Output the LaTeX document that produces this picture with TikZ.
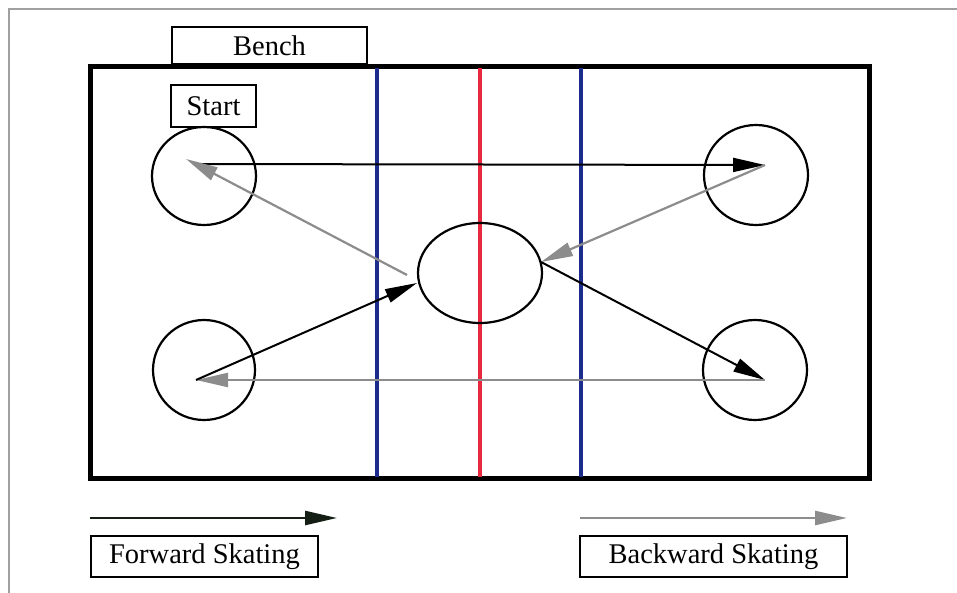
\documentclass[tikz,border=0pt]{standalone}
\usepackage{fontspec}
\setmainfont{Liberation Serif}
\usetikzlibrary{arrows.meta,shapes.geometric}
\definecolor{arrgray}{RGB}{140,140,140}
\definecolor{framegray}{RGB}{160,160,160}
\definecolor{rinkblue}{RGB}{28,44,140}
\definecolor{rinkred}{RGB}{232,40,62}
\definecolor{darkarrow}{RGB}{20,30,20}
\begin{document}
\begin{tikzpicture}[x=1pt,y=-1pt,
  box/.style={draw,line width=2.2pt,inner sep=0pt,font=\fontsize{28.5}{30}\selectfont},
  ring/.style={draw,ellipse,line width=2.2pt,inner sep=0pt},
  fwd/.style={line width=2pt,-{Triangle[length=32pt,width=14pt]}},
  bwd/.style={line width=2.2pt,draw=arrgray,-{Triangle[length=32pt,width=14pt]}},
  bline/.style={draw=rinkblue,line width=4pt},
  rline/.style={draw=rinkred,line width=4pt}]
\useasboundingbox (0,0) rectangle (957,593);
\draw[framegray,line width=2pt] (9,593) -- (9,9) -- (957,9);
% rink
\node[draw,line width=5pt,inner sep=0pt,minimum width=778.5pt,minimum height=412pt] (rink) at (479.75,272.5) {};
\draw[bline] (377,68) -- (377,477);
\draw[rline] (480,68) -- (480,477);
\draw[bline] (581,68) -- (581,477);
% boxes
\node[box,minimum width=195pt,minimum height=37pt] (bench) at (269.5,45.5) {Bench};
\node[box,minimum width=85pt,minimum height=42pt] (start) at (213.5,106) {Start};
\node[box,minimum width=227pt,minimum height=41pt] (fwdbox) at (204.5,556.5) {Forward Skating};
\node[box,minimum width=267pt,minimum height=41pt] (bwdbox) at (713.5,556.5) {Backward Skating};
% circles
\node[ring,minimum width=104pt,minimum height=98pt] (tl) at (204,176) {};
\node[ring,minimum width=104pt,minimum height=100pt] (tr) at (756,175) {};
\node[ring,minimum width=102pt,minimum height=100pt] (bl) at (204,370) {};
\node[ring,minimum width=104pt,minimum height=100pt] (br) at (755,370) {};
\node[ring,minimum width=124pt,minimum height=100pt] (c) at (480,273) {};
% path points
\coordinate (ptl) at (200,164);
\coordinate (ptlg) at (186,159);
\coordinate (ptr) at (765,165);
\coordinate (pbr) at (765,380);
\coordinate (pbl) at (196,380);
\coordinate (cl) at (417,283);
\coordinate (clg) at (407,275);
\coordinate (cr) at (541,262);
% arrows
\draw[fwd] (ptl) -- (ptr);
\draw[bwd] (ptr) -- (cr);
\draw[fwd] (cr) -- (pbr);
\draw[bwd] (pbr) -- (pbl);
\draw[fwd] (pbl) -- (cl);
\draw[bwd] (clg) -- (ptlg);
% legend
\coordinate (f1) at (90,518);
\coordinate (f2) at (337,518);
\coordinate (b1) at (580,518);
\coordinate (b2) at (847,518);
\draw[fwd,line width=2.5pt,draw=darkarrow] (f1) -- (f2);
\draw[bwd,line width=2.5pt] (b1) -- (b2);
\end{tikzpicture}
\end{document}
